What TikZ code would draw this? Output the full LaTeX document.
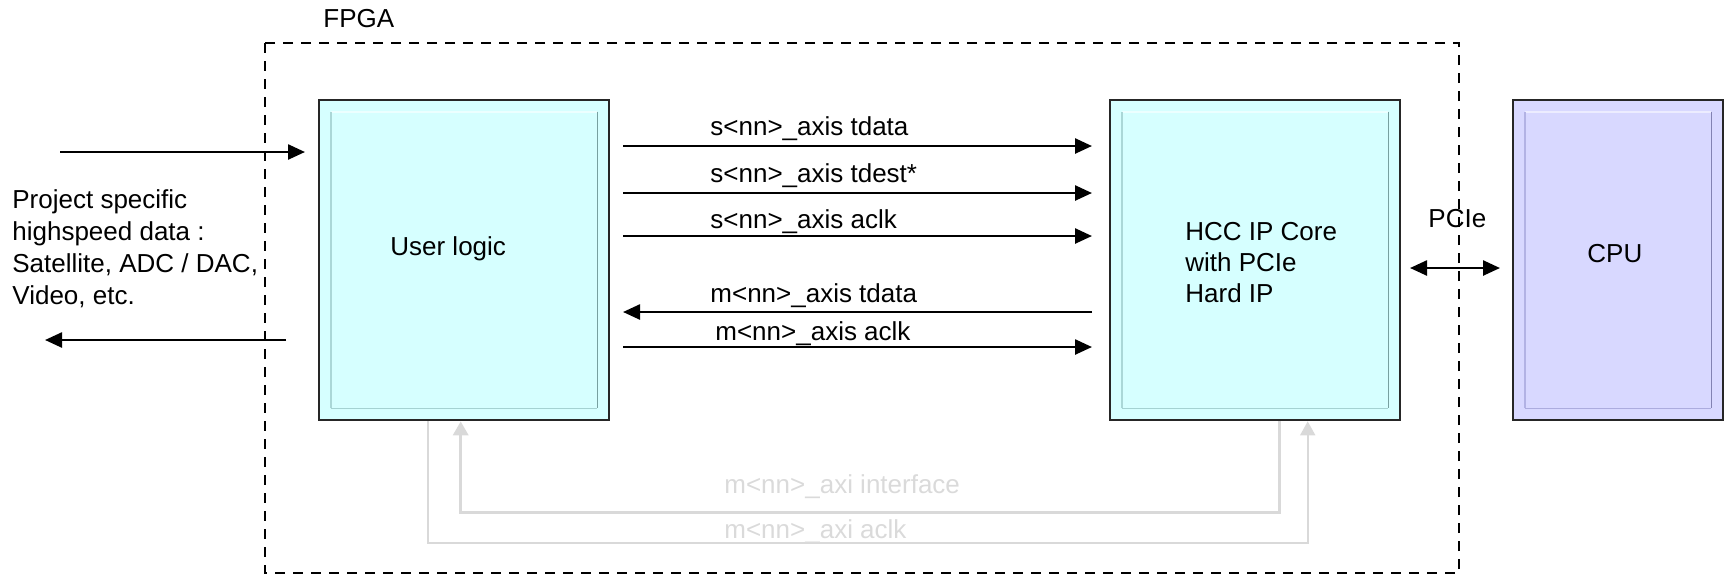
\documentclass[tikz,border=0pt]{standalone}
\usepackage{fontspec}
\setmainfont{Liberation Sans}
\usetikzlibrary{arrows.meta,calc}
\definecolor{cyfill}{RGB}{214,255,255}
\definecolor{cpufill}{RGB}{216,216,255}
\definecolor{cytop}{RGB}{236,255,255}
\definecolor{cyleft}{RGB}{170,215,215}
\definecolor{cyright}{RGB}{120,160,160}
\definecolor{cybot}{RGB}{165,210,210}
\definecolor{cputop}{RGB}{236,236,255}
\definecolor{cpuleft}{RGB}{178,178,228}
\definecolor{cpuright}{RGB}{130,130,178}
\definecolor{cpubot}{RGB}{172,172,222}
\definecolor{lgray}{RGB}{217,217,217}
\definecolor{ltext}{RGB}{218,218,218}
\newcommand\drawbevel[5]{%
  \draw[line width=0.8pt,draw=#2] ([shift={(6.5pt,-6.5pt)}]#1.north west) -- ([shift={(-6.5pt,-6.5pt)}]#1.north east);
  \draw[line width=0.8pt,draw=#3] ([shift={(6.5pt,-6.5pt)}]#1.north west) -- ([shift={(6.5pt,6.5pt)}]#1.south west);
  \draw[line width=0.8pt,draw=#4] ([shift={(-6.5pt,-6.5pt)}]#1.north east) -- ([shift={(-6.5pt,6.5pt)}]#1.south east);
  \draw[line width=0.8pt,draw=#5] ([shift={(6.5pt,6.5pt)}]#1.south west) -- ([shift={(-6.5pt,6.5pt)}]#1.south east);
}
\begin{document}
\begin{tikzpicture}[x=0.5pt,y=-0.5pt,
  font=\fontsize{13}{16}\selectfont,
  blk/.style={draw=black!85, line width=1.3pt, inner sep=0pt, minimum height=160pt},
  txt/.style={inner sep=0pt, anchor=base west},
  gtxt/.style={txt, text=ltext},
  sig/.style={line width=1.25pt, -{Triangle[length=8.5pt,width=7.5pt]}},
  gthick/.style={draw=lgray, line width=1.6pt, -{Triangle[length=7pt,width=7.5pt]}},
  gthin/.style={draw=lgray, line width=0.9pt, -{Triangle[length=7pt,width=7.5pt]}},
  fpgabox/.style={dash pattern=on 5pt off 4pt, line width=1.25pt}
]
\useasboundingbox (0,0) rectangle (1725,575);

% FPGA frame
\draw[fpgabox] (265,43) rectangle (1459,573);
\node[txt] (fpga) at (323,27) {FPGA};

% blocks
\node[blk, fill=cyfill, minimum width=145pt] (ul) at (464,260) {};
\drawbevel{ul}{cytop}{cyleft}{cyright}{cybot}
\node[blk, fill=cyfill, minimum width=145pt] (hcc) at (1255,260) {};
\drawbevel{hcc}{cytop}{cyleft}{cyright}{cybot}
\node[blk, fill=cpufill, minimum width=105pt] (cpu) at (1618,260) {};
\drawbevel{cpu}{cputop}{cpuleft}{cpuright}{cpubot}

\node[txt] (ultext) at (390,255) {User logic};
\node[txt] (hcc1) at (1185,240) {HCC IP Core};
\node[txt] (hcc2) at (1185,271) {with PCIe};
\node[txt] (hcc3) at (1185,302) {Hard IP};
\node[txt] (cputext) at (1587,262) {CPU};

% left side text
\node[txt] (p1) at (12,208) {Project specific};
\node[txt] (p2) at (12,240) {highspeed data :};
\node[txt] (p3) at (12,272) {Satellite, ADC / DAC,};
\node[txt] (p4) at (12,304) {Video, etc.};

% external data arrows
\coordinate (inA) at (60,152);
\coordinate (inB) at (305,152);
\coordinate (outA) at (286,340);
\coordinate (outB) at (45,340);
\draw[sig] (inA) -- (inB);
\draw[sig] (outA) -- (outB);

% streaming signals
\coordinate (s1a) at (623,146); \coordinate (s1b) at (1092,146);
\coordinate (s2a) at (623,193); \coordinate (s2b) at (1092,193);
\coordinate (s3a) at (623,236); \coordinate (s3b) at (1092,236);
\coordinate (m1a) at (1092,312); \coordinate (m1b) at (623,312);
\coordinate (m2a) at (623,347); \coordinate (m2b) at (1092,347);
\draw[sig] (s1a) -- (s1b);
\draw[sig] (s2a) -- (s2b);
\draw[sig] (s3a) -- (s3b);
\draw[sig] (m1a) -- (m1b);
\draw[sig] (m2a) -- (m2b);
\node[txt] (l1) at (710,135) {s<nn>\_axis tdata};
\node[txt] (l2) at (710,182) {s<nn>\_axis tdest*};
\node[txt] (l3) at (710,228) {s<nn>\_axis aclk};
\node[txt] (l4) at (710,302) {m<nn>\_axis tdata};
\node[txt] (l5) at (715,340) {m<nn>\_axis aclk};

% PCIe link
\coordinate (pA) at (1410,268);
\coordinate (pB) at (1500,268);
\draw[line width=1.25pt, {Triangle[length=8.5pt,width=7.5pt]}-{Triangle[length=8.5pt,width=7.5pt]}] (pA) -- (pB);
\node[txt] (pcie) at (1428,227) {PCIe};

% AXI memory-mapped interface (gray)
\draw[gthick] ($(hcc.south west)+(171,0)$) -- ++(0,91) -| ($(ul.south west)+(143,0)$);
\draw[gthin] ($(ul.south west)+(110,0)$) -- ++(0,122) -| ($(hcc.south west)+(199,0)$);
\node[gtxt] (ai) at (724,493) {m<nn>\_axi interface};
\node[gtxt] (ac) at (724,538) {m<nn>\_axi aclk};
\end{tikzpicture}
\end{document}
